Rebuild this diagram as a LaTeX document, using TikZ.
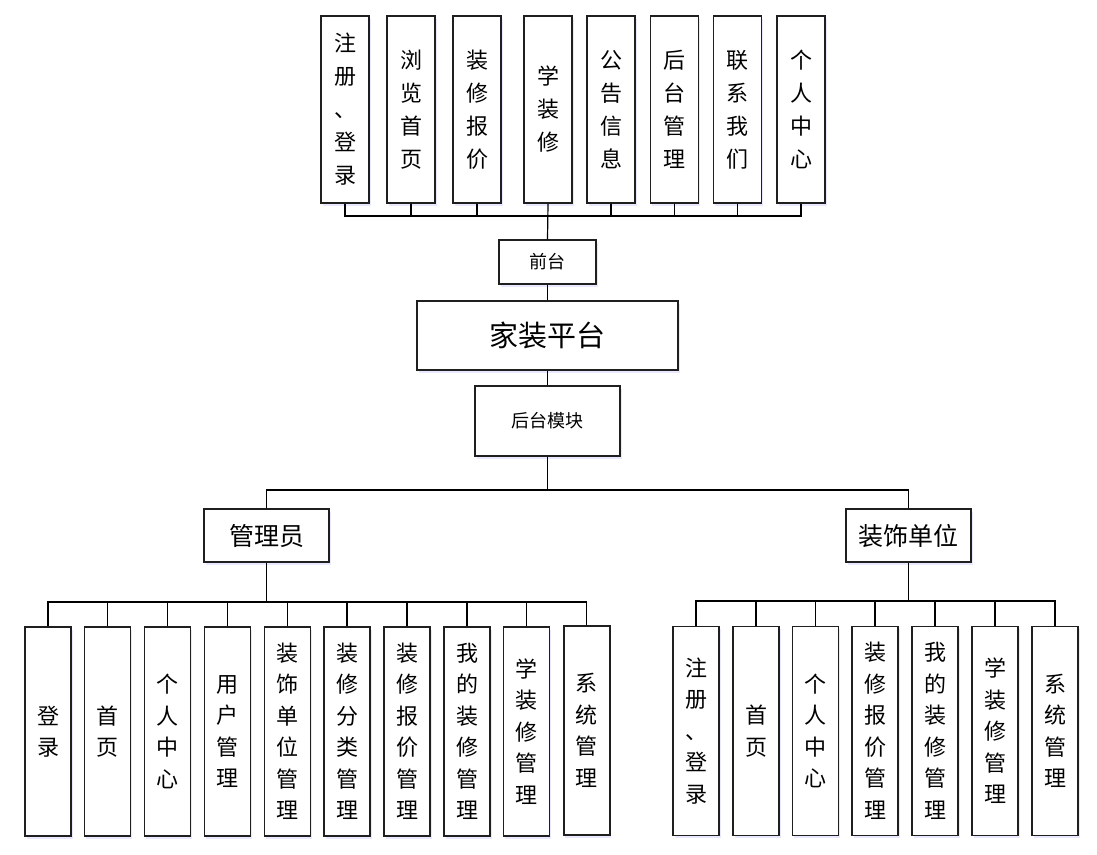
\documentclass[tikz,border=0pt]{standalone}
\usepackage{fontspec}
\setmainfont{Noto Sans CJK SC}
\usetikzlibrary{shadows}
\begin{document}
\begin{tikzpicture}[x=1pt,y=-1pt,
  box/.style={draw=black!88, line width=1.4pt, fill=white, inner sep=0pt, align=center,
    drop shadow={shadow xshift=1.5pt, shadow yshift=-2.5pt, fill=blue!30!white, opacity=0.3}},
  topbox/.style={box, minimum width=48pt, minimum height=187pt, font=\fontsize{22}{33}\selectfont},
  lowbox/.style={box, minimum width=46pt, minimum height=209pt, font=\fontsize{22}{31.5}\selectfont},
  conn/.style={line width=1.2pt, draw=black}]
\useasboundingbox (0,0) rectangle (1097,854);
% top row
\node[topbox] (t1) at (345,109.5) {注\\册\\、\\登\\录};
\node[topbox] (t2) at (411,109.5) {浏\\览\\首\\页};
\node[topbox] (t3) at (477,109.5) {装\\修\\报\\价};
\node[topbox] (t4) at (548,109.5) {学\\装\\修};
\node[topbox] (t5) at (611,109.5) {公\\告\\信\\息};
\node[topbox] (t6) at (674.5,109.5) {后\\台\\管\\理};
\node[topbox] (t7) at (737.5,109.5) {联\\系\\我\\们};
\node[topbox] (t8) at (801,109.5) {个\\人\\中\\心};
% middle
\node[box, minimum width=97pt, minimum height=44pt, font=\fontsize{18}{20}\selectfont] (qt) at (547.5,262) {前台};
\node[box, minimum width=261pt, minimum height=69pt, font=\fontsize{29}{32}\selectfont] (jz) at (547.5,335.5) {家装平台};
\node[box, minimum width=145pt, minimum height=70pt, font=\fontsize{18}{20}\selectfont] (hm) at (547.5,421) {后台模块};
\node[box, minimum width=125pt, minimum height=53pt, font=\fontsize{25}{28}\selectfont] (gly) at (266.5,535.5) {管理员};
\node[box, minimum width=125pt, minimum height=53pt, font=\fontsize{25}{28}\selectfont] (zs) at (908.5,535.5) {装饰单位};
% admin children
\node[lowbox] (a1) at (48,731.5) {登\\录};
\node[lowbox] (a2) at (107.5,731.5) {首\\页};
\node[lowbox] (a3) at (167.5,731.5) {个\\人\\中\\心};
\node[lowbox] (a4) at (227.3,731.5) {用\\户\\管\\理};
\node[lowbox] (a5) at (287.3,731.5) {装\\饰\\单\\位\\管\\理};
\node[lowbox] (a6) at (347,731.5) {装\\修\\分\\类\\管\\理};
\node[lowbox] (a7) at (407,731.5) {装\\修\\报\\价\\管\\理};
\node[lowbox] (a8) at (467,731.5) {我\\的\\装\\修\\管\\理};
\node[lowbox] (a9) at (526.7,731.5) {学\\装\\修\\管\\理};
\node[lowbox] (a10) at (586.8,730.5) {系\\统\\管\\理};
% decoration unit children
\node[lowbox] (r1) at (696,731) {注\\册\\、\\登\\录};
\node[lowbox] (r2) at (756,731) {首\\页};
\node[lowbox] (r3) at (815.5,731) {个\\人\\中\\心};
\node[lowbox] (r4) at (875,731) {装\\修\\报\\价\\管\\理};
\node[lowbox] (r5) at (935,731) {我\\的\\装\\修\\管\\理};
\node[lowbox] (r6) at (995,731) {学\\装\\修\\管\\理};
\node[lowbox] (r7) at (1055,731) {系\\统\\管\\理};
% buses
\coordinate (tbus) at (548,216);
\coordinate (mbus) at (547.5,490);
\coordinate (abus) at (266.5,602);
\coordinate (rbus) at (908.5,601);
% top connectors
\draw[conn] (t1.south) |- (tbus) -| (t8.south);
\foreach \i in {2,3,5,6,7} {\draw[conn] (t\i.south) -- (t\i.south |- tbus);}
\draw[conn] (t4.south) -- (qt.north);
\draw[conn] (qt.south) -- (jz.north);
\draw[conn] (jz.south) -- (hm.north);
\draw[conn] (hm.south) -- (mbus);
\draw[conn] (gly.north) |- (mbus) -| (zs.north);
% admin
\draw[conn] (gly.south) -- (abus);
\draw[conn] (a1.north) |- (abus) -| (a10.north);
\foreach \i in {2,...,9} {\draw[conn] (a\i.north) -- (a\i.north |- abus);}
% decoration unit
\draw[conn] (zs.south) -- (rbus);
\draw[conn] (r1.north) |- (rbus) -| (r7.north);
\foreach \i in {2,...,6} {\draw[conn] (r\i.north) -- (r\i.north |- rbus);}
\end{tikzpicture}
\end{document}
